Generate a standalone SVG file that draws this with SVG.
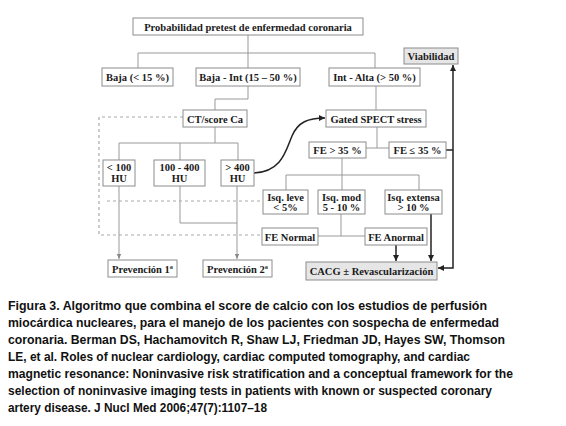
<svg xmlns="http://www.w3.org/2000/svg" width="566" height="426" viewBox="0 0 566 426">
<defs>
<style>
.box{fill:#fff;stroke:#8c8c8c;stroke-width:1}
.gbox{fill:#e6e6e6;stroke:#8c8c8c;stroke-width:1}
.t{font-family:"Liberation Serif","Times New Roman",serif;font-weight:bold;font-size:10.5px;fill:#1a1a1a;text-anchor:middle}
.ln{fill:none;stroke:#999;stroke-width:1}
.dk{fill:none;stroke:#222;stroke-width:1.5}
.ds{fill:none;stroke:#aaa;stroke-width:1.2;stroke-dasharray:3,3}
.cap{font-family:"Liberation Sans",Arial,sans-serif;font-weight:bold;font-size:13px;fill:#111}
</style>
<marker id="ag" markerWidth="6" markerHeight="6" refX="5" refY="3" orient="auto" markerUnits="userSpaceOnUse"><path d="M0,0.8 L5,3 L0,5.2 Z" fill="#888"/></marker>
<marker id="ak" markerWidth="8" markerHeight="8" refX="6" refY="3.5" orient="auto" markerUnits="userSpaceOnUse"><path d="M0,0.5 L6,3.5 L0,6.5 Z" fill="#222"/></marker>
</defs>
<rect width="566" height="426" fill="#fff"/>
<g id="connectors">
<path class="ln" d="M248,35 V53 M138,53 H375 M138,53 V68 M248,53 V68 M375,53 V68"/>
<path class="ln" d="M248,86 V99 H215 V110"/>
<path class="ln" d="M376,86 V110"/>
<path class="ln" d="M377,127 V148 M366,148 H389"/>
<path class="ln" d="M215,127 V143 M119,143 H238 M119,143 V160 M180,143 V160 M238,143 V160"/>
<path class="ln" d="M119,186 V259" marker-end="url(#ag)"/>
<path class="ln" d="M180,186 V223 H237"/>
<path class="ln" d="M237,186 V259" marker-end="url(#ag)"/>
<path class="ln" d="M342,158 V175 M286,175 H419 M286,175 V190 M342,175 V190 M419,175 V191"/>
<path class="ln" d="M341,214 V236 M318,236 H365"/>
<path class="ds" d="M183,117 H99 V235 H262"/>
<path class="ds" d="M107,201 H263"/>
<path class="dk" d="M254,173 C282,172 286,150 292,136 C298,122 308,118 325,118" marker-end="url(#ak)"/>
<path class="dk" d="M446,150 H453"/>
<path class="dk" d="M453,150 V65" marker-end="url(#ak)"/>
<path class="dk" d="M453,150 V268 H438" marker-end="url(#ak)"/>
<path class="dk" d="M396,245 V261" marker-end="url(#ak)"/>
<path class="dk" d="M431,214 V261" marker-end="url(#ak)"/>
</g>
<g id="n-top"><rect class="box" x="133" y="18" width="230" height="17"/><text class="t" x="248" y="30.5">Probabilidad pretest de enfermedad coronaria</text></g>
<g id="n-baja"><rect class="box" x="102" y="68" width="71" height="18"/><text class="t" x="137.5" y="81">Baja (&lt; 15 %)</text></g>
<g id="n-bajaint"><rect class="box" x="196" y="68" width="104" height="18"/><text class="t" x="248" y="81">Baja - Int (15 – 50 %)</text></g>
<g id="n-intalta"><rect class="box" x="329" y="68" width="91" height="18"/><text class="t" x="374.5" y="81">Int - Alta (&gt; 50 %)</text></g>
<g id="n-viab"><rect class="gbox" x="404" y="48" width="54" height="16"/><text class="t" x="431" y="60">Viabilidad</text></g>
<g id="n-ct"><rect class="box" x="183" y="110" width="64" height="17"/><text class="t" x="215" y="122.5">CT/score Ca</text></g>
<g id="n-spect"><rect class="box" x="326" y="110" width="100" height="17"/><text class="t" x="376" y="122.5">Gated SPECT stress</text></g>
<g id="n-fe35"><rect class="box" x="309" y="142" width="57" height="16"/><text class="t" x="337.5" y="154">FE &gt; 35 %</text></g>
<g id="n-fele35"><rect class="box" x="389" y="142" width="57" height="16"/><text class="t" x="417.5" y="154">FE ≤ 35 %</text></g>
<g id="n-lt100"><rect class="box" x="103" y="160" width="32" height="26"/><text class="t" x="119" y="171">&lt; 100</text><text class="t" x="119" y="182">HU</text></g>
<g id="n-100400"><rect class="box" x="154" y="160" width="51" height="26"/><text class="t" x="179.5" y="171">100 - 400</text><text class="t" x="179.5" y="182">HU</text></g>
<g id="n-gt400"><rect class="box" x="221" y="160" width="33" height="26"/><text class="t" x="237.5" y="171">&gt; 400</text><text class="t" x="237.5" y="182">HU</text></g>
<g id="n-leve"><rect class="box" x="263" y="190" width="45" height="24"/><text class="t" x="285.5" y="200.5">Isq. leve</text><text class="t" x="285.5" y="211">&lt; 5%</text></g>
<g id="n-mod"><rect class="box" x="318" y="190" width="47" height="24"/><text class="t" x="341.5" y="200.5">Isq. mod</text><text class="t" x="341.5" y="211">5 - 10 %</text></g>
<g id="n-ext"><rect class="box" x="385" y="190" width="57" height="24"/><text class="t" x="413.5" y="200.5">Isq. extensa</text><text class="t" x="413.5" y="211">&gt; 10 %</text></g>
<g id="n-fen"><rect class="box" x="262" y="228" width="56" height="17"/><text class="t" x="290" y="240.5">FE Normal</text></g>
<g id="n-fea"><rect class="box" x="365" y="228" width="62" height="17"/><text class="t" x="396" y="240.5">FE Anormal</text></g>
<g id="n-prev1"><rect class="box" x="108" y="260" width="69" height="17"/><text class="t" x="142.5" y="272.5">Prevención 1ª</text></g>
<g id="n-prev2"><rect class="box" x="203" y="260" width="69" height="17"/><text class="t" x="237.5" y="272.5">Prevención 2ª</text></g>
<g id="n-cacg"><rect class="gbox" x="306" y="262" width="131" height="18"/><text class="t" x="371.5" y="275">CACG ± Revascularización</text></g>
<g id="caption">
<text class="cap" x="8" y="310" textLength="479" lengthAdjust="spacingAndGlyphs">Figura 3. Algoritmo que combina el score de calcio con los estudios de perfusión</text>
<text class="cap" x="8" y="327" textLength="491" lengthAdjust="spacingAndGlyphs">miocárdica nucleares, para el manejo de los pacientes con sospecha de enfermedad</text>
<text class="cap" x="8" y="344" textLength="497" lengthAdjust="spacingAndGlyphs">coronaria. Berman DS, Hachamovitch R, Shaw LJ, Friedman JD, Hayes SW, Thomson</text>
<text class="cap" x="8" y="361" textLength="462" lengthAdjust="spacingAndGlyphs">LE, et al. Roles of nuclear cardiology, cardiac computed tomography, and cardiac</text>
<text class="cap" x="8" y="378" textLength="505" lengthAdjust="spacingAndGlyphs">magnetic resonance: Noninvasive risk stratification and a conceptual framework for the</text>
<text class="cap" x="8" y="395" textLength="484" lengthAdjust="spacingAndGlyphs">selection of noninvasive imaging tests in patients with known or suspected coronary</text>
<text class="cap" x="8" y="412" textLength="259" lengthAdjust="spacingAndGlyphs">artery disease. J Nucl Med 2006;47(7):1107–18</text>
</g>
</svg>
